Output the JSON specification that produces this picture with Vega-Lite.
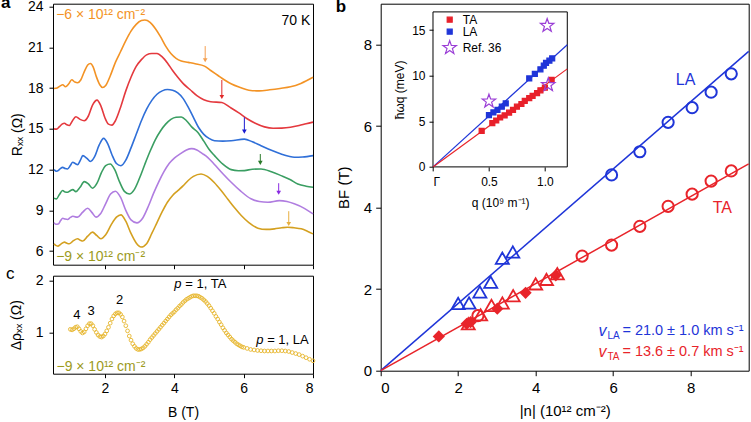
{
"$schema": "https://vega.github.io/schema/vega-lite/v6.json",
"padding": {"left": 0, "top": -7.3, "right": 0, "bottom": 0},
"background": "white",
"spacing": 16.7,
"resolve": {"scale": {"color": "independent", "fill": "independent", "stroke": "independent", "shape": "independent", "size": "independent"}},
"config": {
  "font": "Liberation Sans",
  "view": {"stroke": "black", "strokeWidth": 1},
  "axis": {"domain": false, "grid": false, "tickColor": "black", "tickWidth": 1, "labelColor": "black", "titleColor": "black", "titleFontWeight": "normal", "labelFont": "Liberation Sans", "titleFont": "Liberation Sans"},
  "title": {"color": "black", "font": "Liberation Sans"},
  "text": {"font": "Liberation Sans"}
},
"datasets": {
  "curves": [
    {"s":"o","B":0.53,"R":17.98},{"s":"o","B":0.62,"R":18.02},{"s":"o","B":0.70,"R":18.15},{"s":"o","B":0.78,"R":18.25},{"s":"o","B":0.86,"R":18.1},{"s":"o","B":0.95,"R":18.3},{"s":"o","B":1.04,"R":18.62},{"s":"o","B":1.13,"R":18.45},{"s":"o","B":1.21,"R":18.4},{"s":"o","B":1.30,"R":18.6},{"s":"o","B":1.40,"R":19.2},{"s":"o","B":1.50,"R":19.7},{"s":"o","B":1.58,"R":19.82},{"s":"o","B":1.66,"R":19.55},{"s":"o","B":1.75,"R":18.85},{"s":"o","B":1.85,"R":18.25},{"s":"o","B":1.93,"R":18.05},{"s":"o","B":2.02,"R":18.2},{"s":"o","B":2.15,"R":18.9},{"s":"o","B":2.30,"R":19.9},{"s":"o","B":2.45,"R":20.7},{"s":"o","B":2.60,"R":21.5},{"s":"o","B":2.75,"R":22.2},{"s":"o","B":2.90,"R":22.7},{"s":"o","B":3.05,"R":22.98},{"s":"o","B":3.15,"R":23.02},{"s":"o","B":3.30,"R":22.85},{"s":"o","B":3.45,"R":22.4},{"s":"o","B":3.60,"R":21.8},{"s":"o","B":3.75,"R":21.1},{"s":"o","B":3.90,"R":20.55},{"s":"o","B":4.05,"R":20.2},{"s":"o","B":4.20,"R":20.0},{"s":"o","B":4.40,"R":19.9},{"s":"o","B":4.60,"R":19.8},{"s":"o","B":4.87,"R":19.62},{"s":"o","B":5.05,"R":19.3},{"s":"o","B":5.25,"R":18.95},{"s":"o","B":5.45,"R":18.6},{"s":"o","B":5.65,"R":18.3},{"s":"o","B":5.90,"R":18.05},{"s":"o","B":6.15,"R":17.85},{"s":"o","B":6.45,"R":17.8},{"s":"o","B":6.75,"R":17.88},{"s":"o","B":7.05,"R":17.98},{"s":"o","B":7.35,"R":18.1},{"s":"o","B":7.65,"R":18.35},{"s":"o","B":8.0,"R":18.8},
    {"s":"r","B":0.53,"R":15.0},{"s":"r","B":0.60,"R":14.98},{"s":"r","B":0.68,"R":15.15},{"s":"r","B":0.76,"R":15.35},{"s":"r","B":0.83,"R":15.42},{"s":"r","B":0.90,"R":15.3},{"s":"r","B":0.97,"R":15.25},{"s":"r","B":1.05,"R":15.55},{"s":"r","B":1.16,"R":15.9},{"s":"r","B":1.28,"R":15.7},{"s":"r","B":1.40,"R":15.6},{"s":"r","B":1.52,"R":15.95},{"s":"r","B":1.64,"R":16.75},{"s":"r","B":1.77,"R":17.12},{"s":"r","B":1.88,"R":16.7},{"s":"r","B":2.00,"R":15.8},{"s":"r","B":2.10,"R":15.35},{"s":"r","B":2.20,"R":15.28},{"s":"r","B":2.30,"R":15.6},{"s":"r","B":2.45,"R":16.6},{"s":"r","B":2.60,"R":17.8},{"s":"r","B":2.75,"R":18.8},{"s":"r","B":2.90,"R":19.6},{"s":"r","B":3.05,"R":20.1},{"s":"r","B":3.20,"R":20.45},{"s":"r","B":3.35,"R":20.55},{"s":"r","B":3.50,"R":20.55},{"s":"r","B":3.65,"R":20.3},{"s":"r","B":3.80,"R":19.85},{"s":"r","B":3.95,"R":19.3},{"s":"r","B":4.10,"R":18.8},{"s":"r","B":4.25,"R":18.35},{"s":"r","B":4.45,"R":17.9},{"s":"r","B":4.65,"R":17.45},{"s":"r","B":4.85,"R":17.15},{"s":"r","B":5.05,"R":17.0},{"s":"r","B":5.37,"R":16.95},{"s":"r","B":5.60,"R":16.6},{"s":"r","B":5.85,"R":16.2},{"s":"r","B":6.10,"R":15.75},{"s":"r","B":6.35,"R":15.4},{"s":"r","B":6.60,"R":15.15},{"s":"r","B":6.85,"R":15.05},{"s":"r","B":7.10,"R":15.06},{"s":"r","B":7.35,"R":15.12},{"s":"r","B":7.60,"R":15.25},{"s":"r","B":7.80,"R":15.38},{"s":"r","B":8.0,"R":15.5},
    {"s":"b","B":0.53,"R":12.0},{"s":"b","B":0.60,"R":11.88},{"s":"b","B":0.66,"R":11.95},{"s":"b","B":0.72,"R":12.1},{"s":"b","B":0.78,"R":12.17},{"s":"b","B":0.85,"R":12.08},{"s":"b","B":0.92,"R":12.05},{"s":"b","B":1.00,"R":12.3},{"s":"b","B":1.07,"R":12.54},{"s":"b","B":1.14,"R":12.45},{"s":"b","B":1.21,"R":12.37},{"s":"b","B":1.29,"R":12.7},{"s":"b","B":1.36,"R":13.03},{"s":"b","B":1.47,"R":12.85},{"s":"b","B":1.58,"R":12.6},{"s":"b","B":1.70,"R":12.95},{"s":"b","B":1.83,"R":13.8},{"s":"b","B":1.96,"R":14.3},{"s":"b","B":2.08,"R":13.9},{"s":"b","B":2.20,"R":13.1},{"s":"b","B":2.33,"R":12.45},{"s":"b","B":2.46,"R":12.29},{"s":"b","B":2.60,"R":12.7},{"s":"b","B":2.75,"R":13.6},{"s":"b","B":2.90,"R":14.6},{"s":"b","B":3.05,"R":15.6},{"s":"b","B":3.20,"R":16.45},{"s":"b","B":3.35,"R":17.1},{"s":"b","B":3.50,"R":17.55},{"s":"b","B":3.65,"R":17.8},{"s":"b","B":3.80,"R":17.9},{"s":"b","B":3.95,"R":17.85},{"s":"b","B":4.10,"R":17.65},{"s":"b","B":4.25,"R":17.25},{"s":"b","B":4.40,"R":16.6},{"s":"b","B":4.55,"R":15.85},{"s":"b","B":4.70,"R":15.1},{"s":"b","B":4.85,"R":14.6},{"s":"b","B":5.00,"R":14.3},{"s":"b","B":5.16,"R":14.13},{"s":"b","B":5.40,"R":14.1},{"s":"b","B":5.64,"R":14.13},{"s":"b","B":6.02,"R":14.25},{"s":"b","B":6.25,"R":14.05},{"s":"b","B":6.50,"R":13.76},{"s":"b","B":6.80,"R":13.42},{"s":"b","B":7.08,"R":13.15},{"s":"b","B":7.30,"R":12.98},{"s":"b","B":7.46,"R":12.91},{"s":"b","B":7.70,"R":12.93},{"s":"b","B":8.0,"R":13.03},
    {"s":"g","B":0.53,"R":9.9},{"s":"g","B":0.60,"R":9.85},{"s":"g","B":0.68,"R":10.15},{"s":"g","B":0.78,"R":10.46},{"s":"g","B":0.85,"R":10.35},{"s":"g","B":0.92,"R":10.33},{"s":"g","B":1.00,"R":10.45},{"s":"g","B":1.07,"R":10.53},{"s":"g","B":1.16,"R":10.38},{"s":"g","B":1.28,"R":10.7},{"s":"g","B":1.40,"R":11.12},{"s":"g","B":1.52,"R":10.95},{"s":"g","B":1.64,"R":10.63},{"s":"g","B":1.77,"R":11.0},{"s":"g","B":1.90,"R":11.8},{"s":"g","B":2.02,"R":12.3},{"s":"g","B":2.15,"R":12.42},{"s":"g","B":2.28,"R":12.0},{"s":"g","B":2.42,"R":11.1},{"s":"g","B":2.56,"R":10.4},{"s":"g","B":2.70,"R":10.21},{"s":"g","B":2.85,"R":10.55},{"s":"g","B":3.00,"R":11.4},{"s":"g","B":3.15,"R":12.4},{"s":"g","B":3.30,"R":13.35},{"s":"g","B":3.45,"R":14.2},{"s":"g","B":3.60,"R":14.85},{"s":"g","B":3.75,"R":15.35},{"s":"g","B":3.90,"R":15.7},{"s":"g","B":4.05,"R":15.86},{"s":"g","B":4.20,"R":15.88},{"s":"g","B":4.35,"R":15.6},{"s":"g","B":4.50,"R":15.15},{"s":"g","B":4.68,"R":14.74},{"s":"g","B":4.85,"R":14.1},{"s":"g","B":5.00,"R":13.5},{"s":"g","B":5.16,"R":13.03},{"s":"g","B":5.40,"R":12.4},{"s":"g","B":5.64,"R":12.0},{"s":"g","B":5.85,"R":11.92},{"s":"g","B":6.02,"R":11.93},{"s":"g","B":6.25,"R":12.03},{"s":"g","B":6.50,"R":12.05},{"s":"g","B":6.80,"R":11.85},{"s":"g","B":7.08,"R":11.56},{"s":"g","B":7.35,"R":11.25},{"s":"g","B":7.56,"R":10.95},{"s":"g","B":7.80,"R":10.78},{"s":"g","B":8.0,"R":10.7},
    {"s":"p","B":0.53,"R":8.1},{"s":"p","B":0.58,"R":7.98},{"s":"p","B":0.65,"R":8.0},{"s":"p","B":0.72,"R":8.25},{"s":"p","B":0.78,"R":8.42},{"s":"p","B":0.85,"R":8.36},{"s":"p","B":0.92,"R":8.33},{"s":"p","B":1.00,"R":8.48},{"s":"p","B":1.07,"R":8.57},{"s":"p","B":1.14,"R":8.52},{"s":"p","B":1.21,"R":8.5},{"s":"p","B":1.35,"R":8.85},{"s":"p","B":1.50,"R":9.16},{"s":"p","B":1.62,"R":8.85},{"s":"p","B":1.74,"R":8.5},{"s":"p","B":1.87,"R":8.75},{"s":"p","B":2.02,"R":9.5},{"s":"p","B":2.16,"R":10.2},{"s":"p","B":2.30,"R":10.41},{"s":"p","B":2.45,"R":9.95},{"s":"p","B":2.60,"R":9.0},{"s":"p","B":2.75,"R":8.3},{"s":"p","B":2.92,"R":8.08},{"s":"p","B":3.08,"R":8.4},{"s":"p","B":3.25,"R":9.3},{"s":"p","B":3.40,"R":10.25},{"s":"p","B":3.55,"R":11.1},{"s":"p","B":3.70,"R":11.85},{"s":"p","B":3.85,"R":12.45},{"s":"p","B":4.00,"R":12.85},{"s":"p","B":4.19,"R":13.2},{"s":"p","B":4.35,"R":13.45},{"s":"p","B":4.50,"R":13.55},{"s":"p","B":4.65,"R":13.45},{"s":"p","B":4.80,"R":13.2},{"s":"p","B":4.96,"R":12.91},{"s":"p","B":5.15,"R":12.4},{"s":"p","B":5.40,"R":11.7},{"s":"p","B":5.64,"R":11.07},{"s":"p","B":5.90,"R":10.45},{"s":"p","B":6.21,"R":9.85},{"s":"p","B":6.45,"R":9.65},{"s":"p","B":6.70,"R":9.6},{"s":"p","B":7.03,"R":9.72},{"s":"p","B":7.25,"R":9.65},{"s":"p","B":7.46,"R":9.48},{"s":"p","B":7.75,"R":9.15},{"s":"p","B":8.0,"R":8.74},
    {"s":"y","B":0.53,"R":6.55},{"s":"y","B":0.58,"R":6.42},{"s":"y","B":0.64,"R":6.37},{"s":"y","B":0.72,"R":6.5},{"s":"y","B":0.83,"R":6.66},{"s":"y","B":0.90,"R":6.58},{"s":"y","B":0.97,"R":6.54},{"s":"y","B":1.08,"R":6.75},{"s":"y","B":1.21,"R":6.91},{"s":"y","B":1.29,"R":6.8},{"s":"y","B":1.36,"R":6.74},{"s":"y","B":1.50,"R":7.1},{"s":"y","B":1.64,"R":7.4},{"s":"y","B":1.76,"R":7.15},{"s":"y","B":1.88,"R":6.91},{"s":"y","B":2.02,"R":7.2},{"s":"y","B":2.18,"R":7.95},{"s":"y","B":2.33,"R":8.5},{"s":"y","B":2.46,"R":8.67},{"s":"y","B":2.60,"R":8.2},{"s":"y","B":2.75,"R":7.3},{"s":"y","B":2.90,"R":6.6},{"s":"y","B":3.04,"R":6.3},{"s":"y","B":3.20,"R":6.55},{"s":"y","B":3.35,"R":7.3},{"s":"y","B":3.50,"R":8.1},{"s":"y","B":3.65,"R":8.9},{"s":"y","B":3.80,"R":9.6},{"s":"y","B":3.95,"R":10.1},{"s":"y","B":4.10,"R":10.45},{"s":"y","B":4.25,"R":10.8},{"s":"y","B":4.40,"R":11.2},{"s":"y","B":4.55,"R":11.5},{"s":"y","B":4.77,"R":11.68},{"s":"y","B":4.95,"R":11.5},{"s":"y","B":5.15,"R":11.05},{"s":"y","B":5.35,"R":10.46},{"s":"y","B":5.55,"R":9.8},{"s":"y","B":5.75,"R":9.15},{"s":"y","B":5.93,"R":8.62},{"s":"y","B":6.15,"R":8.1},{"s":"y","B":6.41,"R":7.69},{"s":"y","B":6.65,"R":7.6},{"s":"y","B":6.89,"R":7.64},{"s":"y","B":7.10,"R":7.72},{"s":"y","B":7.27,"R":7.76},{"s":"y","B":7.45,"R":7.72},{"s":"y","B":7.66,"R":7.64},{"s":"y","B":7.85,"R":7.45},{"s":"y","B":8.0,"R":7.27}
  ],
  "arrows": [
    {"s":"o","B":4.89,"t":21.1,"h":20.05},{"s":"r","B":5.37,"t":18.6,"h":17.35},{"s":"b","B":6.02,"t":15.85,"h":14.8},{"s":"g","B":6.48,"t":13.15,"h":12.5},{"s":"p","B":7.01,"t":11.0,"h":10.3},{"s":"y","B":7.3,"t":8.94,"h":8.0}
  ],
  "dots": [
    {"B":1.00,"d":1.06},{"B":1.05,"d":1.05},{"B":1.10,"d":1.07},{"B":1.15,"d":1.10},{"B":1.20,"d":1.11},{"B":1.25,"d":1.07},{"B":1.30,"d":1.02},{"B":1.35,"d":0.99},{"B":1.40,"d":1.01},{"B":1.45,"d":1.07},{"B":1.50,"d":1.13},{"B":1.55,"d":1.17},{"B":1.60,"d":1.17},{"B":1.65,"d":1.13},{"B":1.70,"d":1.06},{"B":1.75,"d":1.00},{"B":1.80,"d":0.95},{"B":1.85,"d":0.92},{"B":1.90,"d":0.91},{"B":1.95,"d":0.93},{"B":2.00,"d":0.97},{"B":2.05,"d":1.03},{"B":2.10,"d":1.10},{"B":2.15,"d":1.18},{"B":2.20,"d":1.26},{"B":2.25,"d":1.32},{"B":2.30,"d":1.36},{"B":2.35,"d":1.38},{"B":2.40,"d":1.38},{"B":2.45,"d":1.35},{"B":2.50,"d":1.30},{"B":2.55,"d":1.22},{"B":2.60,"d":1.13},{"B":2.65,"d":1.03},{"B":2.70,"d":0.93},{"B":2.75,"d":0.85},{"B":2.80,"d":0.78},{"B":2.85,"d":0.73},{"B":2.90,"d":0.69},{"B":2.95,"d":0.67},{"B":3.00,"d":0.67},{"B":3.05,"d":0.68},{"B":3.10,"d":0.70},{"B":3.15,"d":0.73},{"B":3.20,"d":0.77},{"B":3.25,"d":0.81},{"B":3.30,"d":0.86},{"B":3.35,"d":0.90},{"B":3.40,"d":0.94},{"B":3.45,"d":0.98},{"B":3.50,"d":1.02},{"B":3.55,"d":1.06},{"B":3.60,"d":1.10},{"B":3.65,"d":1.14},{"B":3.70,"d":1.18},{"B":3.75,"d":1.22},{"B":3.80,"d":1.26},{"B":3.85,"d":1.30},{"B":3.90,"d":1.34},{"B":3.95,"d":1.37},{"B":4.00,"d":1.40},{"B":4.05,"d":1.44},{"B":4.10,"d":1.47},{"B":4.15,"d":1.51},{"B":4.20,"d":1.54},{"B":4.25,"d":1.58},{"B":4.30,"d":1.61},{"B":4.35,"d":1.64},{"B":4.40,"d":1.66},{"B":4.45,"d":1.68},{"B":4.50,"d":1.70},{"B":4.55,"d":1.71},{"B":4.60,"d":1.71},{"B":4.65,"d":1.71},{"B":4.70,"d":1.70},{"B":4.75,"d":1.68},{"B":4.80,"d":1.66},{"B":4.85,"d":1.63},{"B":4.90,"d":1.60},{"B":4.95,"d":1.56},{"B":5.00,"d":1.52},{"B":5.05,"d":1.47},{"B":5.10,"d":1.42},{"B":5.15,"d":1.37},{"B":5.20,"d":1.31},{"B":5.25,"d":1.26},{"B":5.30,"d":1.20},{"B":5.35,"d":1.15},{"B":5.40,"d":1.09},{"B":5.45,"d":1.04},{"B":5.50,"d":0.99},{"B":5.55,"d":0.95},{"B":5.60,"d":0.91},{"B":5.65,"d":0.87},{"B":5.70,"d":0.84},{"B":5.75,"d":0.81},{"B":5.80,"d":0.78},{"B":5.85,"d":0.76},{"B":5.90,"d":0.74},{"B":5.95,"d":0.72},{"B":6.00,"d":0.71},{"B":6.10,"d":0.69},{"B":6.20,"d":0.67},{"B":6.30,"d":0.66},{"B":6.40,"d":0.65},{"B":6.50,"d":0.645},{"B":6.60,"d":0.64},{"B":6.70,"d":0.64},{"B":6.80,"d":0.64},{"B":6.90,"d":0.64},{"B":7.00,"d":0.645},{"B":7.10,"d":0.645},{"B":7.20,"d":0.64},{"B":7.30,"d":0.63},{"B":7.40,"d":0.61},{"B":7.50,"d":0.59},{"B":7.60,"d":0.57},{"B":7.70,"d":0.54},{"B":7.80,"d":0.51},{"B":7.90,"d":0.48},{"B":8.00,"d":0.45}
  ]
},
"hconcat": [
  {
    "vconcat": [
      {
        "width": 260, "height": 261,
        "title": {"text": "a", "anchor": "start", "frame": "group", "offset": 0, "dx": -52, "dy": 25.4, "baseline": "alphabetic", "fontSize": 17, "fontWeight": "bold"},
        "layer": [
          {
            "data": {"name": "curves"},
            "mark": {"type": "line", "interpolate": "monotone", "strokeWidth": 1.6},
            "encoding": {
              "x": {"field": "B", "type": "quantitative", "scale": {"domain": [0.5, 8], "nice": false}, "axis": {"values": [2, 4, 6, 8], "labels": false, "title": null, "tickSize": 4}},
              "y": {"field": "R", "type": "quantitative", "scale": {"domain": [5, 24.22], "nice": false, "zero": false}, "axis": {"values": [6, 9, 12, 15, 18, 21, 24], "title": "Rₓₓ (Ω)", "labelFontSize": 14, "titleFontSize": 14, "tickSize": 4, "labelPadding": 6, "titlePadding": 3}},
              "color": {"field": "s", "type": "nominal", "scale": {"domain": ["o", "r", "b", "g", "p", "y"], "range": ["#f39325", "#e4393e", "#2f6fd8", "#3a9e62", "#b07de0", "#d4a020"]}, "legend": null}
            }
          },
          {
            "data": {"name": "arrows"},
            "mark": {"type": "rule", "strokeWidth": 1},
            "encoding": {
              "x": {"field": "B", "type": "quantitative"},
              "y": {"field": "t", "type": "quantitative"},
              "y2": {"field": "h"},
              "stroke": {"field": "s", "type": "nominal", "scale": {"domain": ["o", "r", "b", "g", "p", "y"], "range": ["#f5a050", "#e02828", "#1a1ad0", "#2a7a2a", "#8a2be2", "#e8b040"]}, "legend": null}
            }
          },
          {
            "data": {"name": "arrows"},
            "mark": {"type": "point", "shape": "triangle-down", "filled": true, "size": 22, "opacity": 1},
            "encoding": {
              "x": {"field": "B", "type": "quantitative"},
              "y": {"field": "h", "type": "quantitative"},
              "fill": {"field": "s", "type": "nominal", "scale": {"domain": ["o", "r", "b", "g", "p", "y"], "range": ["#f5a050", "#e02828", "#1a1ad0", "#2a7a2a", "#8a2be2", "#e8b040"]}, "legend": null}
            }
          },
          {
            "data": {"values": [{}]},
            "mark": {"type": "text", "text": "−6 × 10¹² cm⁻²", "color": "#f39325", "fontSize": 14, "align": "left", "baseline": "middle"},
            "encoding": {"x": {"datum": 0.59, "type": "quantitative"}, "y": {"datum": 23.4, "type": "quantitative"}}
          },
          {
            "data": {"values": [{}]},
            "mark": {"type": "text", "text": "70 K", "color": "black", "fontSize": 14, "align": "right", "baseline": "middle"},
            "encoding": {"x": {"datum": 7.92, "type": "quantitative"}, "y": {"datum": 22.95, "type": "quantitative"}}
          },
          {
            "data": {"values": [{}]},
            "mark": {"type": "text", "text": "−9 × 10¹² cm⁻²", "color": "#9c9a1c", "fontSize": 14, "align": "left", "baseline": "middle"},
            "encoding": {"x": {"datum": 0.59, "type": "quantitative"}, "y": {"datum": 5.6, "type": "quantitative"}}
          }
        ]
      },
      {
        "width": 260, "height": 98,
        "title": {"text": "c", "anchor": "start", "frame": "group", "offset": 0, "dx": -47, "dy": 22.6, "baseline": "alphabetic", "fontSize": 17, "fontWeight": "normal"},
        "layer": [
          {
            "data": {"name": "dots"},
            "mark": {"type": "point", "shape": "circle", "filled": false, "size": 14, "strokeWidth": 0.9, "color": "#e6b52c", "opacity": 1},
            "encoding": {
              "x": {"field": "B", "type": "quantitative", "scale": {"domain": [0.5, 8], "nice": false}, "axis": {"values": [2, 4, 6, 8], "title": "B (T)", "labelFontSize": 14, "titleFontSize": 14, "tickSize": 4, "labelPadding": 4, "titlePadding": 10}},
              "y": {"field": "d", "type": "quantitative", "scale": {"domain": [0.2, 2.1], "nice": false, "zero": false}, "axis": {"values": [1, 2], "format": "d", "title": "Δρₓₓ (Ω)", "labelFontSize": 14, "titleFontSize": 14, "tickSize": 4, "labelPadding": 6, "titlePadding": 12}}
            }
          },
          {"data": {"values": [{}]}, "mark": {"type": "text", "text": "4", "fontSize": 13, "align": "center", "baseline": "middle"}, "encoding": {"x": {"datum": 1.19, "type": "quantitative"}, "y": {"datum": 1.34, "type": "quantitative"}}},
          {"data": {"values": [{}]}, "mark": {"type": "text", "text": "3", "fontSize": 13, "align": "center", "baseline": "middle"}, "encoding": {"x": {"datum": 1.6, "type": "quantitative"}, "y": {"datum": 1.42, "type": "quantitative"}}},
          {"data": {"values": [{}]}, "mark": {"type": "text", "text": "2", "fontSize": 13, "align": "center", "baseline": "middle"}, "encoding": {"x": {"datum": 2.42, "type": "quantitative"}, "y": {"datum": 1.63, "type": "quantitative"}}},
          {"data": {"values": [{}]}, "mark": {"type": "text", "text": "p", "fontStyle": "italic", "fontSize": 13, "align": "left", "baseline": "middle"}, "encoding": {"x": {"datum": 4.0, "type": "quantitative"}, "y": {"datum": 1.93, "type": "quantitative"}}},
          {"data": {"values": [{}]}, "mark": {"type": "text", "text": "= 1, TA", "fontSize": 13, "align": "left", "baseline": "middle", "dx": 11}, "encoding": {"x": {"datum": 4.0, "type": "quantitative"}, "y": {"datum": 1.93, "type": "quantitative"}}},
          {"data": {"values": [{}]}, "mark": {"type": "text", "text": "p", "fontStyle": "italic", "fontSize": 13, "align": "left", "baseline": "middle"}, "encoding": {"x": {"datum": 6.36, "type": "quantitative"}, "y": {"datum": 0.86, "type": "quantitative"}}},
          {"data": {"values": [{}]}, "mark": {"type": "text", "text": "= 1, LA", "fontSize": 13, "align": "left", "baseline": "middle", "dx": 11}, "encoding": {"x": {"datum": 6.36, "type": "quantitative"}, "y": {"datum": 0.86, "type": "quantitative"}}},
          {"data": {"values": [{}]}, "mark": {"type": "text", "text": "−9 × 10¹² cm⁻²", "color": "#9c9a1c", "fontSize": 14, "align": "left", "baseline": "middle"}, "encoding": {"x": {"datum": 0.6, "type": "quantitative"}, "y": {"datum": 0.33, "type": "quantitative"}}}
        ]
      }
    ],
    "spacing": 11,
    "bounds": "flush",
    "resolve": {"scale": {"color": "independent", "fill": "independent", "stroke": "independent"}}
  },
  {
    "width": 368, "height": 367,
    "title": {"text": "b", "anchor": "start", "frame": "group", "offset": 0, "dx": -45, "dy": 25.2, "baseline": "alphabetic", "fontSize": 17, "fontWeight": "bold"},
    "resolve": {"scale": {"x": "independent", "y": "independent"}, "axis": {"x": "independent", "y": "independent"}},
    "layer": [
      {
        "layer": [
          {
            "data": {"values": [{"mode": "LA", "n": 0, "BF": 0}, {"mode": "LA", "n": 9.5, "BF": 7.83}, {"mode": "TA", "n": 0, "BF": 0}, {"mode": "TA", "n": 9.5, "BF": 5.07}]},
            "mark": {"type": "line", "strokeWidth": 1.5},
            "encoding": {
              "x": {"field": "n", "type": "quantitative", "scale": {"domain": [0, 9.5], "nice": false}, "axis": {"values": [0, 2, 4, 6, 8], "title": "|n| (10¹² cm⁻²)", "labelFontSize": 15, "titleFontSize": 15, "tickSize": 5, "labelPadding": 5, "titlePadding": 8}},
              "y": {"field": "BF", "type": "quantitative", "scale": {"domain": [0, 9], "nice": false}, "axis": {"values": [0, 2, 4, 6, 8], "title": "BF (T)", "labelFontSize": 15, "titleFontSize": 15, "tickSize": 5, "labelPadding": 4, "titlePadding": 12}},
              "color": {"field": "mode", "type": "nominal", "scale": {"domain": ["LA", "TA"], "range": ["#1f35d8", "#e8242a"]}, "legend": null}
            }
          },
          {
            "data": {"values": [
              {"mode": "LA", "n": 2.0, "BF": 1.65}, {"mode": "LA", "n": 2.28, "BF": 1.66}, {"mode": "LA", "n": 2.56, "BF": 1.93}, {"mode": "LA", "n": 2.84, "BF": 2.17}, {"mode": "LA", "n": 3.14, "BF": 2.76}, {"mode": "LA", "n": 3.41, "BF": 2.91},
              {"mode": "TA", "n": 2.26, "BF": 1.15}, {"mode": "TA", "n": 2.58, "BF": 1.37}, {"mode": "TA", "n": 2.86, "BF": 1.6}, {"mode": "TA", "n": 3.14, "BF": 1.66}, {"mode": "TA", "n": 3.42, "BF": 1.84}, {"mode": "TA", "n": 4.0, "BF": 2.13}, {"mode": "TA", "n": 4.28, "BF": 2.24}, {"mode": "TA", "n": 4.56, "BF": 2.38}
            ]},
            "mark": {"type": "point", "shape": "triangle-up", "filled": false, "size": 170, "strokeWidth": 1.8, "opacity": 1},
            "encoding": {
              "x": {"field": "n", "type": "quantitative"},
              "y": {"field": "BF", "type": "quantitative"},
              "color": {"field": "mode", "type": "nominal", "legend": null}
            }
          },
          {
            "data": {"values": [
              {"mode": "LA", "n": 5.96, "BF": 4.8}, {"mode": "LA", "n": 6.69, "BF": 5.37}, {"mode": "LA", "n": 7.42, "BF": 6.09}, {"mode": "LA", "n": 8.04, "BF": 6.45}, {"mode": "LA", "n": 8.53, "BF": 6.83}, {"mode": "LA", "n": 9.05, "BF": 7.28},
              {"mode": "TA", "n": 2.51, "BF": 1.35}, {"mode": "TA", "n": 5.2, "BF": 2.81}, {"mode": "TA", "n": 5.96, "BF": 3.08}, {"mode": "TA", "n": 6.69, "BF": 3.54}, {"mode": "TA", "n": 7.42, "BF": 4.03}, {"mode": "TA", "n": 8.04, "BF": 4.33}, {"mode": "TA", "n": 8.53, "BF": 4.65}, {"mode": "TA", "n": 9.05, "BF": 4.9}
            ]},
            "mark": {"type": "point", "shape": "circle", "filled": false, "size": 125, "strokeWidth": 2, "opacity": 1},
            "encoding": {
              "x": {"field": "n", "type": "quantitative"},
              "y": {"field": "BF", "type": "quantitative"},
              "color": {"field": "mode", "type": "nominal", "legend": null}
            }
          },
          {
            "data": {"values": [
              {"mode": "TA", "n": 1.5, "BF": 0.84}, {"mode": "TA", "n": 2.22, "BF": 1.15}, {"mode": "TA", "n": 2.32, "BF": 1.19}, {"mode": "TA", "n": 3.01, "BF": 1.52}, {"mode": "TA", "n": 3.74, "BF": 1.91}, {"mode": "TA", "n": 4.52, "BF": 2.34}
            ]},
            "mark": {"type": "point", "shape": "diamond", "filled": true, "size": 150, "opacity": 1},
            "encoding": {
              "x": {"field": "n", "type": "quantitative"},
              "y": {"field": "BF", "type": "quantitative"},
              "color": {"field": "mode", "type": "nominal", "legend": null}
            }
          },
          {"data": {"values": [{}]}, "mark": {"type": "text", "text": "LA", "color": "#1f35d8", "fontSize": 16, "align": "center", "baseline": "middle"}, "encoding": {"x": {"datum": 7.87, "type": "quantitative"}, "y": {"datum": 7.12, "type": "quantitative"}}},
          {"data": {"values": [{}]}, "mark": {"type": "text", "text": "TA", "color": "#e8242a", "fontSize": 16, "align": "center", "baseline": "middle"}, "encoding": {"x": {"datum": 8.82, "type": "quantitative"}, "y": {"datum": 3.99, "type": "quantitative"}}},
          {"data": {"values": [{}]}, "mark": {"type": "text", "text": "v", "fontStyle": "italic", "color": "#1f35d8", "fontSize": 16, "align": "left", "baseline": "middle"}, "encoding": {"x": {"datum": 5.62, "type": "quantitative"}, "y": {"datum": 0.98, "type": "quantitative"}}},
          {"data": {"values": [{}]}, "mark": {"type": "text", "text": "LA", "color": "#1f35d8", "fontSize": 10, "align": "left", "baseline": "middle", "dx": 9, "dy": 5}, "encoding": {"x": {"datum": 5.62, "type": "quantitative"}, "y": {"datum": 0.98, "type": "quantitative"}}},
          {"data": {"values": [{}]}, "mark": {"type": "text", "text": "= 21.0 ± 1.0 km s⁻¹", "color": "#1f35d8", "fontSize": 14.5, "align": "left", "baseline": "middle", "dx": 24}, "encoding": {"x": {"datum": 5.62, "type": "quantitative"}, "y": {"datum": 0.98, "type": "quantitative"}}},
          {"data": {"values": [{}]}, "mark": {"type": "text", "text": "v", "fontStyle": "italic", "color": "#e8242a", "fontSize": 16, "align": "left", "baseline": "middle"}, "encoding": {"x": {"datum": 5.62, "type": "quantitative"}, "y": {"datum": 0.47, "type": "quantitative"}}},
          {"data": {"values": [{}]}, "mark": {"type": "text", "text": "TA", "color": "#e8242a", "fontSize": 10, "align": "left", "baseline": "middle", "dx": 9, "dy": 5}, "encoding": {"x": {"datum": 5.62, "type": "quantitative"}, "y": {"datum": 0.47, "type": "quantitative"}}},
          {"data": {"values": [{}]}, "mark": {"type": "text", "text": "= 13.6 ± 0.7 km s⁻¹", "color": "#e8242a", "fontSize": 14.5, "align": "left", "baseline": "middle", "dx": 24}, "encoding": {"x": {"datum": 5.62, "type": "quantitative"}, "y": {"datum": 0.47, "type": "quantitative"}}}
        ]
      },
      {
        "layer": [
          {
            "data": {"values": [{}]},
            "mark": {"type": "rect", "fill": "white", "stroke": "black", "strokeWidth": 1},
            "encoding": {
              "x": {"datum": 0, "type": "quantitative", "scale": {"domain": [0, 1.2], "range": [52.3, 186.6], "nice": false}, "axis": {"orient": "bottom", "offset": -203.8, "values": [0, 0.5, 1], "labelExpr": "datum.value == 0 ? 'Γ' : format(datum.value, '.1f')", "title": "q (10⁹ m⁻¹)", "labelFontSize": 12, "titleFontSize": 12, "tickSize": 4, "labelPadding": 6, "titlePadding": 10, "zindex": 1}},
              "x2": {"datum": 1.2},
              "y": {"datum": 0, "type": "quantitative", "scale": {"domain": [0, 17], "range": [163.2, 8.2], "nice": false, "zero": false}, "axis": {"orient": "left", "offset": -52.3, "values": [0, 5, 10, 15], "title": "ħωq (meV)", "labelFontSize": 12, "titleFontSize": 12, "tickSize": 4, "labelPadding": 4, "titlePadding": 5, "zindex": 1}},
              "y2": {"datum": 17}
            }
          },
          {
            "data": {"values": [{"mode": "LA", "q": 0, "E": 0}, {"mode": "LA", "q": 1.2, "E": 13.4}, {"mode": "TA", "q": 0, "E": 0}, {"mode": "TA", "q": 1.2, "E": 10.75}]},
            "mark": {"type": "line", "strokeWidth": 1.2},
            "encoding": {
              "x": {"field": "q", "type": "quantitative"},
              "y": {"field": "E", "type": "quantitative"},
              "color": {"field": "mode", "type": "nominal", "legend": null}
            }
          },
          {
            "data": {"values": [
              {"s": "TA", "q": 0.435, "E": 3.96}, {"s": "TA", "q": 0.53, "E": 4.8}, {"s": "TA", "q": 0.565, "E": 5.09}, {"s": "TA", "q": 0.6, "E": 5.42}, {"s": "TA", "q": 0.64, "E": 5.65}, {"s": "TA", "q": 0.68, "E": 5.95}, {"s": "TA", "q": 0.715, "E": 6.25}, {"s": "TA", "q": 0.75, "E": 6.6}, {"s": "TA", "q": 0.79, "E": 6.9}, {"s": "TA", "q": 0.82, "E": 7.25}, {"s": "TA", "q": 0.86, "E": 7.55}, {"s": "TA", "q": 0.89, "E": 7.8}, {"s": "TA", "q": 0.93, "E": 8.1}, {"s": "TA", "q": 0.96, "E": 8.4}, {"s": "TA", "q": 1.0, "E": 8.7}, {"s": "TA", "q": 1.06, "E": 9.55},
              {"s": "LA", "q": 0.5, "E": 5.68}, {"s": "LA", "q": 0.54, "E": 5.97}, {"s": "LA", "q": 0.576, "E": 6.25}, {"s": "LA", "q": 0.615, "E": 6.6}, {"s": "LA", "q": 0.65, "E": 6.96}, {"s": "LA", "q": 0.86, "E": 9.7}, {"s": "LA", "q": 0.91, "E": 10.2}, {"s": "LA", "q": 0.96, "E": 10.7}, {"s": "LA", "q": 0.99, "E": 11.1}, {"s": "LA", "q": 1.01, "E": 11.4}, {"s": "LA", "q": 1.04, "E": 11.65}, {"s": "LA", "q": 1.065, "E": 11.9},
              {"s": "Ref. 36", "q": 0.5, "E": 7.2}, {"s": "Ref. 36", "q": 1.02, "E": 15.5}, {"s": "Ref. 36", "q": 1.03, "E": 9.0}
            ]},
            "mark": {"type": "point", "filled": true, "strokeWidth": 1.2, "opacity": 1},
            "encoding": {
              "x": {"field": "q", "type": "quantitative"},
              "y": {"field": "E", "type": "quantitative"},
              "shape": {"field": "s", "type": "nominal", "scale": {"domain": ["TA", "LA", "Ref. 36"], "range": ["square", "square", "M0,-1L0.235,-0.324L0.951,-0.309L0.38,0.124L0.588,0.809L0,0.4L-0.588,0.809L-0.38,0.124L-0.951,-0.309L-0.235,-0.324Z"]}, "legend": {"orient": "none", "legendX": 61, "legendY": 10, "title": null, "labelFontSize": 12, "labelFont": "Liberation Sans", "padding": 0, "rowPadding": 0, "labelOffset": 5, "symbolStrokeWidth": 1.2}},
              "fill": {"field": "s", "type": "nominal", "scale": {"domain": ["TA", "LA", "Ref. 36"], "range": ["#e8202a", "#1f35d8", "transparent"]}, "legend": {"orient": "none", "legendX": 61, "legendY": 10, "title": null, "labelFontSize": 12, "labelFont": "Liberation Sans", "padding": 0, "rowPadding": 0, "labelOffset": 5, "symbolStrokeWidth": 1.2}},
              "stroke": {"field": "s", "type": "nominal", "scale": {"domain": ["TA", "LA", "Ref. 36"], "range": ["#e8202a", "#1f35d8", "#9b3fd6"]}, "legend": {"orient": "none", "legendX": 61, "legendY": 10, "title": null, "labelFontSize": 12, "labelFont": "Liberation Sans", "padding": 0, "rowPadding": 0, "labelOffset": 5, "symbolStrokeWidth": 1.2}},
              "size": {"field": "s", "type": "nominal", "scale": {"type": "ordinal", "domain": ["TA", "LA", "Ref. 36"], "range": [25, 25, 200]}, "legend": {"orient": "none", "legendX": 61, "legendY": 10, "title": null, "labelFontSize": 12, "labelFont": "Liberation Sans", "padding": 0, "rowPadding": 0, "labelOffset": 5, "symbolStrokeWidth": 1.2}}
            }
          }
        ]
      }
    ]
  }
]
}
